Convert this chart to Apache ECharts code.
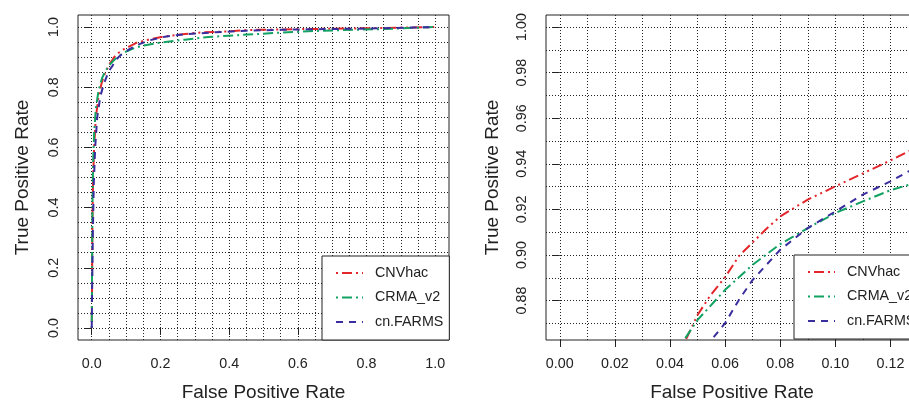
<!DOCTYPE html>
<html><head><meta charset="utf-8">
<script src="https://cdn.jsdelivr.net/npm/echarts@6/dist/echarts.min.js"></script>
<style>html,body{margin:0;padding:0;background:#fff;overflow:hidden}#c{width:909px;height:403px}</style>
</head><body><div id="c"></div>
<script>
// ---- data ----
const seriesNames = ['CNVhac', 'CRMA_v2', 'cn.FARMS'];

const cnvhacFPR = [0, 0.001, 0.002, 0.004, 0.007, 0.012, 0.02, 0.028, 0.036, 0.0457, 0.05, 0.0545, 0.06, 0.065, 0.07, 0.075, 0.08, 0.09, 0.10, 0.11, 0.12, 0.13, 0.165, 0.213, 0.271, 0.319, 0.387, 0.45, 0.6, 0.8, 1.0];
const cnvhacTPR = [0, 0.15, 0.35, 0.5, 0.6, 0.7, 0.77, 0.81, 0.84, 0.8627, 0.8737, 0.882, 0.8903, 0.8995, 0.9055, 0.9115, 0.9169, 0.9243, 0.9301, 0.9358, 0.9415, 0.9475, 0.958, 0.969, 0.977, 0.982, 0.985, 0.990, 0.993, 0.996, 1.0];

const crmaFPR = [0, 0.001, 0.002, 0.004, 0.007, 0.012, 0.02, 0.03, 0.038, 0.0451, 0.05, 0.06, 0.07, 0.08, 0.09, 0.10, 0.11, 0.12, 0.13, 0.145, 0.203, 0.271, 0.339, 0.426, 0.527, 0.673, 0.837, 1.0];
const crmaTPR = [0, 0.2, 0.4, 0.55, 0.65, 0.73, 0.79, 0.83, 0.85, 0.8627, 0.8715, 0.8847, 0.8957, 0.9048, 0.9118, 0.9184, 0.9235, 0.9284, 0.932, 0.937, 0.949, 0.958, 0.967, 0.973, 0.980, 0.988, 0.993, 1.0];

const farmsFPR = [0, 0.001, 0.003, 0.006, 0.01, 0.016, 0.025, 0.035, 0.045, 0.05, 0.055, 0.06, 0.065, 0.07, 0.075, 0.08, 0.09, 0.10, 0.11, 0.12, 0.13, 0.165, 0.213, 0.271, 0.35, 0.45, 0.6, 0.8, 1.0];
const farmsTPR = [0, 0.12, 0.3, 0.48, 0.6, 0.7, 0.77, 0.81, 0.84, 0.852, 0.8627, 0.8701, 0.8803, 0.8891, 0.8957, 0.9023, 0.9118, 0.9191, 0.9265, 0.9323, 0.939, 0.955, 0.968, 0.976, 0.982, 0.988, 0.992, 0.995, 1.0];

const leftTicks = [0, 0.2, 0.4, 0.6, 0.8, 1.0];
const leftGrid = [0, 0.05, 0.1, 0.15, 0.2, 0.25, 0.3, 0.35, 0.4, 0.45, 0.5, 0.55, 0.6, 0.65, 0.7, 0.75, 0.8, 0.85, 0.9, 0.95, 1.0];
const rightXTicks = [0, 0.02, 0.04, 0.06, 0.08, 0.10, 0.12];
const rightXGrid = [0, 0.01, 0.02, 0.03, 0.04, 0.05, 0.06, 0.07, 0.08, 0.09, 0.10, 0.11, 0.12];
const rightYTicks = [0.88, 0.90, 0.92, 0.94, 0.96, 0.98, 1.00];
const rightYGrid = [0.87, 0.88, 0.89, 0.90, 0.91, 0.92, 0.93, 0.94, 0.95, 0.96, 0.97, 0.98, 0.99, 1.00];

// ---- styling ----
const FONT = '"Liberation Sans", Arial, Helvetica, sans-serif';
const colors = ['#E2262B', '#12A262', '#3A2E9E'];
const dashes = [[2, 4, 10, 4, 2, 4], [2, 4, 10, 4], [7, 6]];
const fprs = [cnvhacFPR, crmaFPR, farmsFPR];
const tprs = [cnvhacTPR, crmaTPR, farmsTPR];

function zip(a, b) { return a.map((v, i) => [v, b[i]]); }

function mainAxis(dim, gi, min, max, ticks, digits, name, gap) {
  const isY = dim === 'y';
  return {
    type: 'value', gridIndex: gi, min: min, max: max,
    axisLine: { show: false },
    axisTick: { show: true, inside: false, length: 7, customValues: ticks, lineStyle: { color: '#222', width: 1 } },
    axisLabel: {
      customValues: ticks, formatter: v => Number(v).toFixed(digits),
      fontFamily: FONT, fontSize: 14.3, color: '#222', margin: isY ? 17 : 17,
      rotate: isY ? 90 : 0, showMinLabel: true, showMaxLabel: true
    },
    splitLine: { show: false },
    name: name, nameLocation: 'middle', nameGap: gap, nameRotate: isY ? 90 : 0,
    nameTextStyle: { fontFamily: FONT, fontSize: 19, color: '#222' }
  };
}
function gridAxis(gi, min, max, vals) {
  return {
    type: 'value', gridIndex: gi, min: min, max: max,
    axisLine: { show: false },
    axisTick: { show: false, customValues: vals },
    axisLabel: { show: false, customValues: vals },
    splitLine: { show: true, lineStyle: { color: '#222', width: 1, type: [1, 2] } }
  };
}
function legendAt(left, top) {
  return {
    data: seriesNames, orient: 'vertical', left: left, top: top,
    padding: [10, 6, 11, 13], itemWidth: 27, itemHeight: 14, itemGap: 10.5,
    backgroundColor: '#fff', borderColor: '#222', borderWidth: 1, borderRadius: 0,
    itemStyle: { opacity: 0 },
    textStyle: { fontFamily: FONT, fontSize: 14.3, color: '#222', lineHeight: 14, padding: [0, 0, 0, 7] },
    selectedMode: false
  };
}

const series = [];
[0, 1].forEach(gi => {
  seriesNames.forEach((nm, k) => {
    series.push({
      name: nm, type: 'line', xAxisIndex: gi * 2, yAxisIndex: gi * 2,
      data: zip(fprs[k], tprs[k]), symbol: 'none', smooth: false, clip: true,
      lineStyle: { color: colors[k], width: 2, type: dashes[k], cap: 'butt' },
      itemStyle: { color: colors[k], opacity: 0 }, z: 3
    });
  });
});

const gridBase = { top: 15, height: 325, show: true, borderColor: '#222', borderWidth: 1, backgroundColor: 'transparent', containLabel: false, outerBoundsMode: 'none' };
const option = {
  animation: false,
  backgroundColor: '#fff',
  grid: [
    Object.assign({ left: 78, width: 371 }, gridBase),
    Object.assign({ left: 546, width: 372 }, gridBase)
  ],
  xAxis: [
    mainAxis('x', 0, -0.04, 1.04, leftTicks, 1, 'False Positive Rate', 43),
    gridAxis(0, -0.04, 1.04, leftGrid),
    mainAxis('x', 1, -0.005, 0.13, rightXTicks, 2, 'False Positive Rate', 43),
    gridAxis(1, -0.005, 0.13, rightXGrid)
  ],
  yAxis: [
    mainAxis('y', 0, -0.04, 1.04, leftTicks, 1, 'True Positive Rate', 46),
    gridAxis(0, -0.04, 1.04, leftGrid),
    mainAxis('y', 1, 0.8627, 1.0053, rightYTicks, 2, 'True Positive Rate', 44),
    gridAxis(1, 0.8627, 1.0053, rightYGrid)
  ],
  legend: [legendAt(322, 256), legendAt(794, 255)],
  series: series
};
const chart = echarts.init(document.getElementById('c'), null, { renderer: 'canvas' });
chart.setOption(option);
</script>
</body></html>
